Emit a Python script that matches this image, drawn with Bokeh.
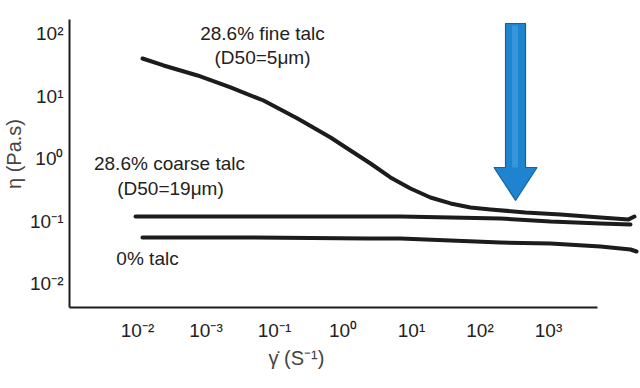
import numpy as np
from bokeh.plotting import figure
from bokeh.models import FixedTicker, Label, Title
from bokeh.embed import file_html
from bokeh.resources import INLINE

# ---- data ----
shear_fine = [1.183e-3, 2.40e-3, 7.52e-3, 0.0228, 0.0690, 0.217, 0.658, 1.285, 2.52, 4.93,
              9.66, 18.9, 37.1, 72.6, 142, 461, 1496, 5741, 14720, 17990]
eta_fine = [39.8, 30.8, 21.3, 13.7, 8.47, 4.37, 2.17, 1.343, 0.832, 0.497,
            0.331, 0.238, 0.191, 0.164, 0.153, 0.137, 0.127, 0.114, 0.106, 0.118]

shear_coarse = [9.35e-4, 0.0447, 1.285, 6.9, 37.1, 199, 1069, 5741, 15740]
eta_coarse = [0.118, 0.118, 0.118, 0.118, 0.114, 0.110, 0.098, 0.091, 0.088]

shear_neat = [1.18e-3, 0.0447, 2.28, 6.9, 37.1, 199, 1069, 5741, 15740, 19280]
eta_neat = [0.0545, 0.0545, 0.0525, 0.0525, 0.0488, 0.0453, 0.0437, 0.0391, 0.035, 0.0325]

x_ticks = [0.001, 0.01, 0.1, 1.0, 10.0, 100.0, 1000.0]
x_tick_labels = ["10⁻²", "10⁻³", "10⁻¹", "10⁰", "10¹", "10²", "10³"]
y_ticks = [0.01, 0.1, 1.0, 10.0, 100.0]
y_tick_labels = ["10⁻²", "10⁻¹", "10⁰", "10¹", "10²"]

x_title = "γ̇ (S⁻¹)"
y_title = "η (Pa.s)"

# arrow annotation (shear rate position, log extents)
arrow_center = 330.0
arrow_top = 10 ** 2.16
arrow_head_base = 10 ** -0.144
arrow_tip = 10 ** -0.672
arrow_shaft_half = 0.146   # decades
arrow_head_half = 0.314    # decades

FONT = "Liberation Sans"
INK = "#1c1c1c"

p = figure(width=640, height=388, x_axis_type="log", y_axis_type="log",
           x_range=(10 ** -3.993, 10 ** 4.343), y_range=(10 ** -2.384, 10 ** 2.528),
           output_backend="svg", toolbar_location=None,
           min_border_left=69, min_border_bottom=81, min_border_top=0, min_border_right=0)
p.outline_line_color = None
p.grid.visible = False
p.background_fill_color = "white"
p.border_fill_color = "white"

for ax in (p.xaxis[0], p.yaxis[0]):
    ax.major_tick_line_color = None
    ax.minor_tick_line_color = None
    ax.major_tick_out = 0
    ax.major_tick_in = 0
    ax.axis_line_color = INK
    ax.axis_line_width = 2
    ax.major_label_text_font = FONT
    ax.major_label_text_font_size = "19px"
    ax.major_label_text_color = "#222222"

p.xaxis.ticker = FixedTicker(ticks=x_ticks)
p.xaxis.major_label_overrides = {t: l for t, l in zip(x_ticks, x_tick_labels)}
p.xaxis.major_label_standoff = 12
p.xaxis.bounds = (10 ** -3.993, 10 ** 3.715)

p.yaxis.ticker = FixedTicker(ticks=y_ticks)
p.yaxis.major_label_overrides = {t: l for t, l in zip(y_ticks, y_tick_labels)}
p.yaxis.major_label_standoff = 6
p.yaxis.bounds = (10 ** -2.384, 10 ** 2.22)
p.yaxis.axis_label = y_title
p.yaxis.axis_label_standoff = 2
p.yaxis.axis_label_text_font = FONT
p.yaxis.axis_label_text_font_size = "20px"
p.yaxis.axis_label_text_font_style = "normal"
p.yaxis.axis_label_text_color = "#444444"

p.add_layout(Title(text=x_title, align="left", offset=199, standoff=2,
                   text_font=FONT, text_font_size="20px", text_font_style="normal",
                   text_color="#444444"), "below")

# curves
for xs, ys in ((shear_fine, eta_fine), (shear_coarse, eta_coarse), (shear_neat, eta_neat)):
    p.line(xs, ys, line_color=INK, line_width=4, line_cap="round", line_join="round")

# arrow
c = np.log10(arrow_center)
lx = [c - arrow_shaft_half, c + arrow_shaft_half, c + arrow_shaft_half, c + arrow_head_half,
      c, c - arrow_head_half, c - arrow_shaft_half]
ly = [arrow_top, arrow_top, arrow_head_base, arrow_head_base, arrow_tip, arrow_head_base, arrow_head_base]
p.patch([10 ** v for v in lx], ly, fill_color="#1f84cf", line_color="#15609c", line_width=1.2)
lx2 = [c - arrow_shaft_half * 0.35, c + arrow_shaft_half * 0.25, c + arrow_shaft_half * 0.25,
       c - arrow_shaft_half * 0.35]
ly2 = [arrow_top * 0.93, arrow_top * 0.93, arrow_head_base, arrow_head_base]
p.patch([10 ** v for v in lx2], ly2, fill_color="#4aa6e6", fill_alpha=0.55, line_color=None)

# curve labels
labels = [
    ("28.6% fine talc", 0.0668, 100.0),
    ("(D50=5μm)", 0.0668, 41.3),
    ("28.6% coarse talc", 2.93e-3, 0.832),
    ("(D50=19μm)", 3.03e-3, 0.331),
    ("0% talc", 1.4e-3, 0.0251),
]
for txt, x, y in labels:
    p.add_layout(Label(x=x, y=y, text=txt, text_font=FONT, text_font_size="19px",
                       text_color="#222222", text_align="center", text_baseline="middle"))

open("out.html", "w").write(file_html(p, INLINE))
